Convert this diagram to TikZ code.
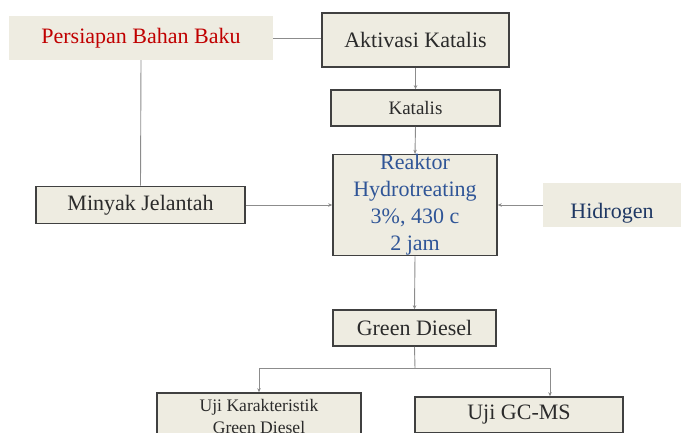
\documentclass[tikz,border=0pt]{standalone}
\usepackage{fontspec}
\setmainfont{Liberation Serif}
\usepackage{xcolor}
\usetikzlibrary{arrows.meta}

\definecolor{boxfill}{HTML}{EEECE1}
\definecolor{boxline}{HTML}{404040}
\definecolor{txtgray}{HTML}{2B2B2B}
\definecolor{txtred}{HTML}{C00000}
\definecolor{txtblue}{HTML}{2F5597}
\definecolor{txtnavy}{HTML}{1F3864}
\definecolor{linegray}{HTML}{8C8C8C}

\tikzset{
  box/.style={draw=boxline, line width=1.6, fill=boxfill, inner sep=0pt,
    text=txtgray, align=center},
  flat/.style={fill=boxfill, inner sep=0pt, align=center},
  conn/.style={draw=linegray, line width=0.9},
  arr/.style={conn, -{Stealth[length=4pt,width=3.5pt,fill=boxline]}},
}

\begin{document}
\begin{tikzpicture}[x=1pt, y=-1pt]
	\useasboundingbox (0,0) rectangle (681,432);
	\clip (0,0) rectangle (681,432);

	\node[flat, minimum width=264, minimum height=44, text=txtred, font=\fontsize{22}{26}\selectfont] (pbb) at (141,38) {Persiapan Bahan Baku};
	\node[box, minimum width=187, minimum height=54, font=\fontsize{22}{26}\selectfont] (ak) at (415.5,40) {Aktivasi Katalis};
	\node[box, minimum width=169, minimum height=36, font=\fontsize{19}{23}\selectfont] (kat) at (415.5,108) {Katalis};
	\node[box, minimum width=164, minimum height=100, text=txtblue, font=\fontsize{22}{27}\selectfont] (rx) at (415,205) {Reaktor\\Hydrotreating\\3\%, 430 c\\2 jam};
	\node[box, minimum width=209, minimum height=37, font=\fontsize{22}{26}\selectfont] (mj) at (140.5,205) {Minyak Jelantah};
	\node[flat, minimum width=138, minimum height=44, text=txtnavy, font=\fontsize{22}{26}\selectfont] (h2) at (612,205) {\raisebox{-13pt}[0pt][0pt]{Hidrogen}};
	\node[box, minimum width=163, minimum height=36, font=\fontsize{22}{26}\selectfont] (gd) at (414.5,328) {Green Diesel};
	\node[box, minimum width=204, minimum height=46, font=\fontsize{17.6}{22}\selectfont] (ujik) at (259,416) {Uji Karakteristik\\Green Diesel};
	\node[box, minimum width=208, minimum height=36, font=\fontsize{22}{26}\selectfont] (gcms) at (519,415) {Uji GC-MS};

	\coordinate (split) at (415,368);
	\coordinate (gcR) at (550,368);

	\draw[conn] (pbb.east) -- (pbb.east -| ak.west);
	\draw[conn] (pbb.south) -- (mj.north);
	\draw[arr] (ak.south) -- (kat.north);
	\draw[arr] (kat.south) -- (rx.north);
	\draw[arr] (mj.east) -- (rx.west);
	\draw[arr] (h2.west) -- (rx.east);
	\draw[arr] (rx.south) -- (gd.north);
	\draw[conn] (gd.south) -- (split);
	\draw[arr] (split) -| (ujik.north);
	\draw[arr] (split) -- (gcR) -- (gcR |- gcms.north);
\end{tikzpicture}
\end{document}
